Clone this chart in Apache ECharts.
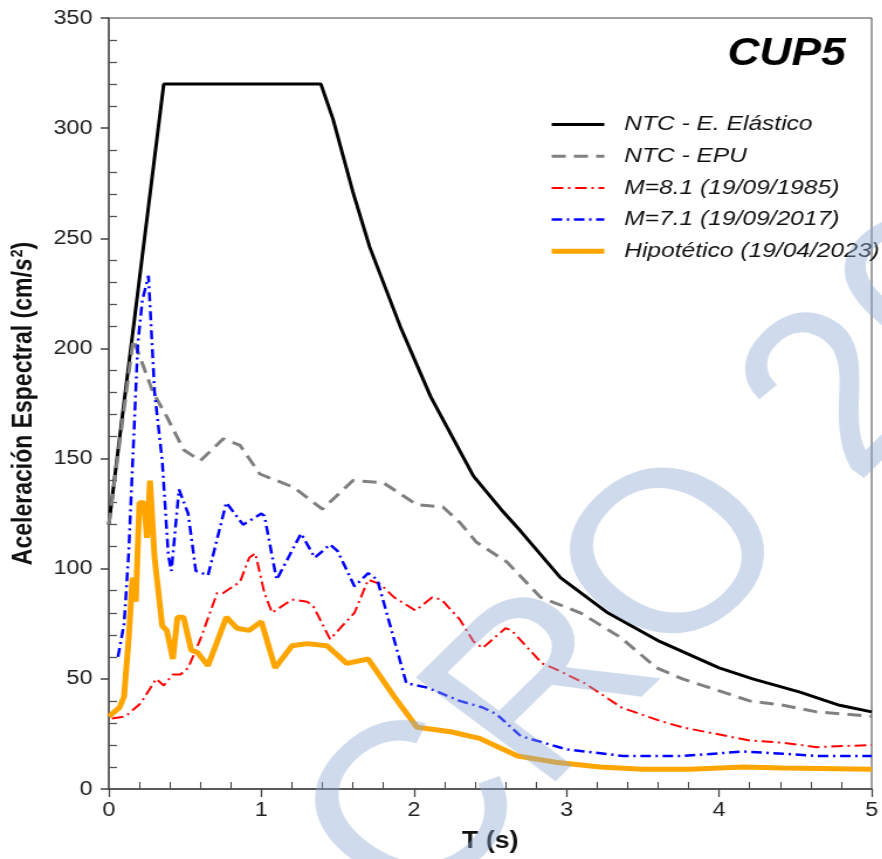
<!DOCTYPE html>
<html>
<head>
<meta charset="utf-8">
<title>CUP5</title>
<script src="https://cdn.jsdelivr.net/npm/echarts/dist/echarts.min.js"></script>
<style>
    html, body { margin: 0; padding: 0; background: #fff; overflow: hidden; }
    /* la figura original esta estirada en horizontal */
    #chart { width: 754px; height: 859px; transform: scaleX(1.17); transform-origin: 0 0; }
</style>
</head>
<body>
<div id="chart"></div>
<script>
    // periodos (s) y aceleraciones (cm/s2)
    let elasticT = [0, 0.36, 1.39, 1.47, 1.6, 1.71, 1.91, 2.11, 2.39, 2.57, 2.7, 2.96, 3.27, 3.61, 4.0, 4.22, 4.53, 4.79, 5];
    let elasticA = [120, 320, 320, 304, 271, 246, 210, 178, 142, 127, 117, 96, 80, 67, 55, 50, 44, 38, 35];

    let epuT = [0, 0.16, 0.21, 0.29, 0.38, 0.49, 0.6, 0.75, 0.86, 0.99, 1.21, 1.4, 1.6, 1.8, 2.02, 2.19, 2.3, 2.41, 2.61, 2.83, 3.09, 3.35, 3.59, 3.76, 4.2, 4.42, 4.64, 5];
    let epuA = [120, 204, 195, 180, 169, 154, 149, 159, 156, 143, 137, 127, 140, 139, 129, 128, 121, 112, 103, 87, 80, 69, 55, 50, 40, 38, 35, 33];

    let m81T = [0.02, 0.11, 0.21, 0.31, 0.36, 0.42, 0.47, 0.52, 0.6, 0.71, 0.75, 0.86, 0.92, 0.96, 1.02, 1.07, 1.2, 1.3, 1.34, 1.45, 1.61, 1.7, 1.78, 1.87, 2.01, 2.12, 2.18, 2.3, 2.39, 2.45, 2.6, 2.64, 2.84, 2.91, 3.12, 3.36, 3.61, 3.76, 4.2, 4.42, 4.64, 5];
    let m81A = [32, 33, 39, 50, 47, 52, 52, 55, 68, 89, 89, 94, 105, 107, 89, 80, 86, 85, 83, 68, 80, 95, 93, 87, 81, 87, 86, 77, 67, 64, 73, 72, 57, 55, 48, 37, 31, 28, 22, 21, 19, 20];

    let m71T = [0.06, 0.1, 0.13, 0.19, 0.22, 0.26, 0.3, 0.35, 0.39, 0.41, 0.46, 0.52, 0.57, 0.65, 0.77, 0.88, 1.0, 1.02, 1.1, 1.26, 1.35, 1.45, 1.5, 1.61, 1.7, 1.76, 1.95, 2.09, 2.3, 2.45, 2.54, 2.7, 3.0, 3.37, 3.76, 4.16, 4.42, 4.64, 5];
    let m71A = [60, 75, 107, 202, 222, 233, 180, 149, 106, 99, 136, 125, 99, 97, 130, 120, 125, 124, 95, 116, 105, 111, 108, 92, 98, 95, 48, 46, 40, 37, 34, 24, 18, 15, 15, 17, 16, 15, 15];

    let hipoT = [0, 0.02, 0.07, 0.1, 0.13, 0.155, 0.177, 0.2, 0.23, 0.25, 0.27, 0.3, 0.35, 0.38, 0.42, 0.45, 0.49, 0.54, 0.58, 0.65, 0.7, 0.77, 0.84, 0.92, 1.0, 1.09, 1.2, 1.3, 1.43, 1.56, 1.7, 1.87, 2.02, 2.24, 2.43, 2.68, 2.94, 3.22, 3.5, 3.81, 4.16, 4.42, 5];
    let hipoA = [33, 34, 37, 42, 68, 96, 85, 130, 130, 114, 140, 105, 74, 72, 59, 78, 78, 63, 62, 56, 65, 78, 73, 72, 76, 55, 65, 66, 65, 57, 59, 42, 28, 26, 23, 15, 12, 10, 9, 9, 10, 9.5, 9];

    let names = ['NTC - E. Elástico', 'NTC - EPU', 'M=8.1 (19/09/1985)', 'M=7.1 (19/09/2017)', 'Hipotético (19/04/2023)'];
    let xTicks = [0, 1, 2, 3, 4, 5];
    let yTicks = [0, 50, 100, 150, 200, 250, 300, 350];

    const FONT = "'Liberation Sans', Arial, sans-serif";

    // color, grosor y tipo de linea de cada serie
    let colors = ['#000000', '#808080', '#ff0000', '#0000ff', '#ffa500'];
    let widths = [3, 3, 2, 2.5, 5];
    let dashes = ['solid', [12, 7], [10, 4, 2, 4], [9, 4, 2, 4], 'solid'];

    function pairs(t, a) {
        let out = [];
        for (let i = 0; i < t.length; i++) {
            out.push([t[i], a[i]]);
        }
        return out;
    }

    function lineSeries(i, t, a) {
        return {
            name: names[i],
            type: 'line',
            xAxisIndex: 0,
            yAxisIndex: 0,
            showSymbol: false,
            symbol: 'none',
            lineStyle: {color: colors[i], width: widths[i], type: dashes[i]},
            itemStyle: {color: colors[i]},
            data: pairs(t, a)
        };
    }

    let legendData = names.map(function (n, i) {
        return {name: n, lineStyle: {width: widths[i], type: dashes[i], color: colors[i]}};
    });

    let chart = echarts.init(document.getElementById('chart'), null, {renderer: 'canvas'});

    chart.setOption({
        animation: false,
        textStyle: {fontFamily: FONT},
        title: {
            text: 'CUP5',
            right: 31,
            top: 36,
            padding: 0,
            textStyle: {fontFamily: FONT, fontSize: 38, fontWeight: 'bold', fontStyle: 'italic', color: '#000'}
        },
        legend: {
            orient: 'vertical',
            left: 469,
            top: 114,
            padding: 0,
            itemWidth: 45,
            itemHeight: 20,
            itemGap: 10.7,
            // sin circulo en el icono, solo la linea
            itemStyle: {opacity: 0, color: 'transparent', borderWidth: 0},
            data: legendData,
            textStyle: {
                fontFamily: FONT, fontSize: 21, fontStyle: 'italic', color: '#111',
                lineHeight: 20, padding: [0, 0, 0, 12]
            }
        },
        grid: {
            left: 92, right: 9, top: 18, bottom: 70,
            show: true, borderColor: '#444', borderWidth: 1, backgroundColor: 'transparent'
        },
        xAxis: [
            {
                type: 'value', min: xTicks[0], max: xTicks[xTicks.length - 1], interval: 1,
                position: 'bottom',
                name: 'T (s)', nameLocation: 'middle', nameGap: 41,
                nameTextStyle: {fontFamily: FONT, fontSize: 23, fontWeight: 'bold', color: '#111'},
                axisLine: {lineStyle: {color: '#444', width: 1.5}},
                axisTick: {show: true, inside: false, length: 8, lineStyle: {color: '#444', width: 1.3}},
                axisLabel: {fontFamily: FONT, fontSize: 20, color: '#222', margin: 11},
                splitLine: {show: false}
            },
            {
                // solo las marcas menores, hacia adentro
                type: 'value', min: 0, max: 5, interval: 1,
                position: 'bottom',
                axisLine: {show: false},
                axisTick: {show: false, inside: true},
                minorTick: {show: true, splitNumber: 5, length: 7, lineStyle: {color: '#444', width: 1.1}},
                axisLabel: {show: false},
                splitLine: {show: false}
            }
        ],
        yAxis: [
            {
                type: 'value', min: yTicks[0], max: yTicks[yTicks.length - 1], interval: 50,
                position: 'left',
                name: 'Aceleración Espectral (cm/{i|s}{sup|2})',
                nameLocation: 'middle', nameGap: 60, nameRotate: 90,
                nameTextStyle: {
                    fontFamily: FONT, fontSize: 23, fontWeight: 'bold', color: '#111',
                    rich: {
                        i: {fontFamily: FONT, fontSize: 23, fontWeight: 'bold', fontStyle: 'italic', color: '#111'},
                        sup: {fontFamily: FONT, fontSize: 14, color: '#111', padding: [0, 0, 11, 1]}
                    }
                },
                axisLine: {show: true, lineStyle: {color: '#555', width: 1.5}},
                axisTick: {show: true, inside: false, length: 7, lineStyle: {color: '#444', width: 1.5}},
                axisLabel: {fontFamily: FONT, fontSize: 20, color: '#222', margin: 14},
                splitLine: {show: false}
            },
            {
                type: 'value', min: 0, max: 350, interval: 50,
                position: 'left',
                axisLine: {show: false},
                axisTick: {show: false, inside: true},
                minorTick: {show: true, splitNumber: 5, length: 7, lineStyle: {color: '#555', width: 1.3}},
                axisLabel: {show: false},
                splitLine: {show: false}
            }
        ],
        // marca de agua
        graphic: [
            {
                type: 'text',
                x: 205,
                y: 995,
                rotation: 49 * Math.PI / 180,
                z: 100,
                silent: true,
                style: {
                    text: 'ACRO 2023',
                    font: 'normal 230px ' + FONT,
                    fill: 'rgba(140,170,210,0.42)',
                    textAlign: 'left',
                    textVerticalAlign: 'middle'
                }
            }
        ],
        series: [
            lineSeries(0, elasticT, elasticA),
            lineSeries(1, epuT, epuA),
            lineSeries(2, m81T, m81A),
            lineSeries(3, m71T, m71A),
            lineSeries(4, hipoT, hipoA)
        ]
    });
</script>
</body>
</html>
